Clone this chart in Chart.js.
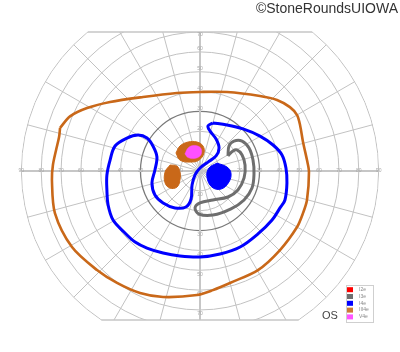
<!DOCTYPE html>
<html><head><meta charset="utf-8">
<script src="https://cdn.jsdelivr.net/npm/chart.js@4.4.1/dist/chart.umd.min.js"></script>
<style>
html,body{margin:0;padding:0;background:#fff;}
#wrap{position:relative;width:400px;height:352px;}
#copy{position:absolute;right:2px;top:1px;font:14px "Liberation Sans",Arial,sans-serif;line-height:14px;color:#333;white-space:nowrap;}
#eye{position:absolute;left:322px;top:309px;font:11px "Liberation Sans",Arial,sans-serif;line-height:12px;color:#444;}
</style>
</head><body>
<div id="wrap"><canvas id="c"></canvas>
<div id="copy">©StoneRoundsUIOWA</div>
<div id="eye">OS</div>
</div>
<script>
// ---- chart form ----
const eccTicks = [10,20,30,40,50,60,70,80,90];
const meridians = [0,15,30,45,60,75,90,105,120,135,150,165,180,195,210,225,240,255,270,285,300,315,330,345];
const upperLimit = 70;   // degrees, top edge of form
const lowerLimit = 75;   // degrees, bottom edge of form
const hTickLabels = ['10','20','30','40','50','60','70','80','90'];
const vTickLabels = ['10','20','30','40','50','60','70'];

// ---- legend ----
const legendNames = ['I2e','I3e','I4e','III4e','V4e'];
const legendColors = ['#ff0000','#707070','#0000ff','#cc7a33','#ff55ff'];

// ---- isopters (x, y in degrees of visual field) ----
const III4e_outer = [[-70.5,21.7],[-65.5,27.5],[-56.9,31.7],[-45.3,34.8],[-28.7,37.3],[-11.6,39.3],[0,39.8],[13.6,39.8],[30.2,37.8],[38.8,35.8],[45.3,32.2],[48.9,28.2],[50.4,23.2],[51.9,14.6],[53.9,5.5],[54.9,-0.5],[53.9,-14.6],[51.9,-21.2],[48.9,-28.2],[40.3,-39.8],[29.2,-49.9],[15.1,-56.4],[6.5,-60.0],[-1.5,-62.5],[-18.6,-63.5],[-30.2,-61.5],[-41.8,-56.4],[-51.9,-49.9],[-64.5,-38.3],[-73.1,-21.2],[-74.6,-4.5],[-74.1,3.0],[-72.5,10.6],[-71.0,17.1],[-70.5,21.7]];
const I4e_outer = [[6.5,24.2],[13.6,23.2],[21.7,21.2],[30.2,17.6],[36.8,13.1],[41.3,8.1],[43.3,1.5],[43.8,-6.0],[42.8,-14.6],[40.3,-18.6],[36.3,-24.7],[29.2,-31.7],[20.2,-38.3],[10.1,-41.8],[0,-43.3],[-10.1,-42.8],[-18.6,-41.3],[-26.7,-38.8],[-32.7,-35.8],[-38.3,-30.7],[-43.8,-24.7],[-46.3,-17.1],[-46.9,-9.6],[-46.9,-2.0],[-45.3,5.5],[-42.8,12.6],[-36.8,16.6],[-31.2,18.1],[-26.7,16.6],[-23.7,12.6],[-21.7,7.1],[-22.7,0.5],[-24.2,-6.0],[-22.7,-12.1],[-18.6,-16.1],[-12.6,-18.6],[-7.1,-18.1],[-4.5,-14.1],[-4.0,-7.1],[-2.5,-2.0],[0,1.5],[4.0,4.5],[8.1,7.6],[9.6,11.6],[8.1,16.1],[5.0,20.2],[4.0,22.7],[6.5,24.2]];
const I4e_scotoma = [[8.6,4.0],[13.6,2.0],[15.6,-1.0],[14.6,-5.5],[10.6,-9.1],[6.0,-8.1],[3.5,-3.0],[4.5,1.5],[8.6,4.0]];
const I3e_outer = [[14.1,7.6],[14.6,12.6],[17.1,15.1],[21.2,15.1],[24.7,11.6],[26.7,5.5],[27.2,-1.5],[26.2,-8.6],[22.2,-14.6],[15.6,-19.1],[6.5,-22.2],[-0.5,-21.7],[-2.5,-18.6],[0,-16.1],[6.5,-14.6],[14.1,-13.1],[19.1,-9.6],[22.2,-3.5],[22.7,3.0],[21.2,8.1],[18.6,10.6],[16.6,10.1],[14.1,7.6]];
const III4e_islandTop = [[-12.1,9.1],[-10.1,12.6],[-6.0,14.6],[-1.5,14.6],[1.5,12.6],[2.0,9.1],[-0.5,5.5],[-5.0,4.5],[-10.1,5.5],[-12.1,9.1]];
const III4e_islandLeft = [[-15.1,3.0],[-11.6,2.5],[-10.1,-0.5],[-10.1,-4.5],[-11.6,-8.1],[-15.1,-8.6],[-17.6,-6.0],[-17.6,-0.5],[-15.1,3.0]];
const V4e_island = [[-7.6,8.6],[-6.0,11.6],[-3.5,12.8],[-0.5,12.3],[0.8,10.3],[0,7.6],[-3.0,6.3],[-6.0,6.8],[-7.6,8.6]];

const toXY = arr => arr.map(p => ({x:p[0], y:p[1]}));
const ORANGE = '#c96819', BLUE = '#0000ff', GRAY = '#6e6e6e', MAGENTA = '#ff50ff';

const gridPlugin = {
  id: 'gvfGrid',
  beforeDatasetsDraw(chart) {
    const {ctx, scales:{x, y}} = chart;
    const cx = x.getPixelForValue(0), cy = y.getPixelForValue(0);
    const k = x.getPixelForValue(1) - cx;
    const R = 90 * k;
    const topY = y.getPixelForValue(upperLimit), botY = y.getPixelForValue(-lowerLimit);
    ctx.save();
    ctx.beginPath(); ctx.rect(0, topY, chart.width, botY - topY); ctx.clip();
    ctx.beginPath(); ctx.arc(cx, cy, R + 0.6, 0, Math.PI * 2); ctx.clip();
    ctx.strokeStyle = '#c2c2c2'; ctx.lineWidth = 1;
    meridians.forEach(a => {
      const r = a * Math.PI / 180;
      ctx.beginPath(); ctx.moveTo(cx, cy);
      ctx.lineTo(cx + Math.cos(r) * R, cy - Math.sin(r) * R); ctx.stroke();
    });
    eccTicks.forEach(e => {
      ctx.beginPath(); ctx.arc(cx, cy, e * k, 0, Math.PI * 2);
      if (e === 30) { ctx.strokeStyle = '#7a7a7a'; ctx.lineWidth = 1.3; }
      else { ctx.strokeStyle = '#c2c2c2'; ctx.lineWidth = 1; }
      ctx.stroke();
    });
    ctx.strokeStyle = '#c6c6c6'; ctx.lineWidth = 2;
    ctx.beginPath(); ctx.moveTo(cx - R, cy); ctx.lineTo(cx + R, cy); ctx.stroke();
    ctx.beginPath(); ctx.moveTo(cx, topY); ctx.lineTo(cx, botY); ctx.stroke();
    ctx.restore();
    // form edges
    ctx.save();
    ctx.strokeStyle = '#c6c6c6'; ctx.lineWidth = 1.5;
    const hwT = Math.sqrt(90*90 - upperLimit*upperLimit) * k;
    const hwB = Math.sqrt(90*90 - lowerLimit*lowerLimit) * k;
    ctx.beginPath(); ctx.moveTo(cx - hwT, topY); ctx.lineTo(cx + hwT, topY); ctx.stroke();
    ctx.beginPath(); ctx.moveTo(cx - hwB, botY); ctx.lineTo(cx + hwB, botY); ctx.stroke();
    // tick labels
    ctx.fillStyle = '#a8a8a8'; ctx.font = '5px "Liberation Sans", Arial, sans-serif';
    ctx.textAlign = 'center'; ctx.textBaseline = 'middle';
    hTickLabels.forEach((t, i) => {
      const e = eccTicks[i];
      ctx.fillText(t, cx - e * k, cy);
      ctx.fillText(t, cx + e * k, cy);
    });
    vTickLabels.forEach((t, i) => {
      const e = eccTicks[i];
      let yt = cy - e * k - 3;
      if (yt < topY + 2) yt = topY + 2.5;
      ctx.fillText(t, cx, yt);
      ctx.fillText(t, cx, cy + e * k + 4);
    });
    ctx.restore();
  },
  afterDraw(chart) {
    const {ctx} = chart;
    ctx.save();
    ctx.fillStyle = '#fff'; ctx.strokeStyle = '#cfcfcf'; ctx.lineWidth = 1;
    ctx.fillRect(346.5, 285.5, 27, 37);
    ctx.strokeRect(346.5, 285.5, 27, 37);
    ctx.font = '5px "Liberation Sans", Arial, sans-serif';
    ctx.textBaseline = 'middle'; ctx.textAlign = 'left';
    legendNames.forEach((n, i) => {
      const yc = 289.7 + i * 6.8;
      ctx.fillStyle = legendColors[i];
      ctx.fillRect(347, yc - 2.5, 6, 5);
      ctx.fillStyle = '#888';
      ctx.fillText(n, 359, yc);
    });
    ctx.restore();
  }
};

const common = {showLine: true, pointRadius: 0, pointHoverRadius: 0, fill: false};
new Chart(document.getElementById('c'), {
  type: 'scatter',
  data: {
    datasets: [
      {...common, label: 'V4e', data: toXY(V4e_island), borderColor: MAGENTA, backgroundColor: MAGENTA, borderWidth: 0.5, fill: 'shape', tension: 0.4, order: 0},
      {...common, label: 'III4e island', data: toXY(III4e_islandTop), borderColor: ORANGE, backgroundColor: ORANGE, borderWidth: 1, fill: 'shape', tension: 0.4, order: 1},
      {...common, label: 'III4e island 2', data: toXY(III4e_islandLeft), borderColor: ORANGE, backgroundColor: ORANGE, borderWidth: 1, fill: 'shape', tension: 0.4, order: 1},
      {...common, label: 'I4e scotoma', data: toXY(I4e_scotoma), borderColor: BLUE, backgroundColor: BLUE, borderWidth: 1, fill: 'shape', tension: 0.4, order: 2},
      {...common, label: 'I3e', data: toXY(I3e_outer), borderColor: GRAY, borderWidth: 3, tension: 0.35, order: 3},
      {...common, label: 'I4e', data: toXY(I4e_outer), borderColor: BLUE, borderWidth: 3, tension: 0.35, order: 4},
      {...common, label: 'III4e', data: toXY(III4e_outer), borderColor: ORANGE, borderWidth: 2.6, tension: 0.3, order: 5}
    ]
  },
  options: {
    responsive: true, maintainAspectRatio: false, animation: false, events: [],
    layout: {padding: 0},
    plugins: {legend: {display: false}, tooltip: {enabled: false}, title: {display: false}},
    scales: {
      x: {type: 'linear', min: -100.76, max: 100.76, display: false},
      y: {type: 'linear', min: -91.18, max: 86.15, display: false}
    }
  },
  plugins: [gridPlugin]
});
</script>
</body></html>
